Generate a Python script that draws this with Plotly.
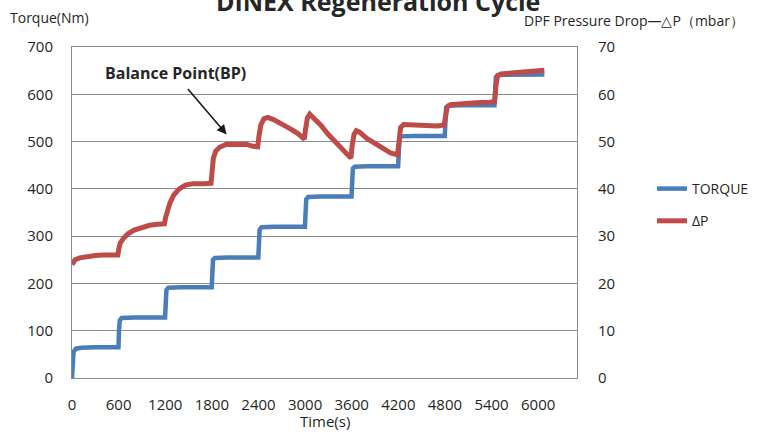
import plotly.graph_objects as go

# Time (s) and engine torque (Nm) for the stepped load profile
torque_t = [0, 8, 20, 50, 120, 300, 598,
            605, 615, 640, 800, 1198,
            1205, 1215, 1240, 1400, 1798,
            1805, 1815, 1840, 2000, 2398,
            2405, 2415, 2440, 2600, 2998,
            3005, 3015, 3040, 3200, 3598,
            3605, 3615, 3640, 3800, 4198,
            4205, 4215, 4240, 4400, 4798,
            4805, 4815, 4840, 5000, 5438,
            5445, 5455, 5480, 5700, 6080]
torque_nm = [0, 35, 55, 62, 64, 65, 65,
             100, 122, 127, 128, 128,
             165, 186, 191, 192, 192,
             228, 250, 254, 255, 255,
             290, 314, 319, 320, 320,
             355, 378, 383, 384, 384,
             420, 443, 447, 448, 448,
             485, 507, 511, 512, 512,
             550, 572, 576, 577, 577,
             612, 636, 641, 642, 642]

# Time (s) and DPF pressure drop (mbar)
dp_t = [0, 15, 40, 100, 200, 300, 400, 500, 590,
        605, 620, 660, 720, 800, 900, 1000, 1100, 1190,
        1205, 1225, 1260, 1310, 1380, 1460, 1560, 1700, 1790,
        1805, 1820, 1850, 1900, 1980, 2100, 2250, 2330, 2390,
        2405, 2430, 2470, 2520, 2600, 2700, 2800, 2900, 2990,
        3005, 3030, 3060, 3100, 3200, 3300, 3400, 3500, 3590,
        3605, 3630, 3660, 3700, 3800, 3900, 4000, 4100, 4190,
        4205, 4230, 4270, 4400, 4550, 4700, 4790,
        4805, 4830, 4870, 5000, 5200, 5380, 5440,
        5455, 5475, 5520, 5650, 5800, 5950, 6080]
dp_mbar = [24.0, 24.6, 25.0, 25.4, 25.7, 25.9, 26.0, 26.0, 26.0,
           27.5, 28.5, 29.5, 30.5, 31.3, 31.9, 32.3, 32.5, 32.6,
           34.0, 35.5, 37.0, 38.7, 40.0, 40.8, 41.1, 41.1, 41.2,
           44.0, 46.5, 48.0, 48.8, 49.4, 49.5, 49.4, 49.0, 48.9,
           51.0, 53.5, 54.8, 55.1, 54.6, 53.8, 52.8, 51.8, 50.5,
           52.5, 55.0, 55.8, 55.2, 53.5, 51.5, 49.8, 48.2, 46.5,
           49.0, 51.5, 52.3, 52.0, 50.6, 49.5, 48.5, 47.6, 47.2,
           50.5, 53.0, 53.6, 53.5, 53.2, 53.3, 53.5,
           55.5, 57.3, 57.8, 58.0, 58.2, 58.3, 58.5,
           61.5, 63.8, 64.3, 64.5, 64.9, 65.1, 65.1]

x_ticks = [0, 600, 1200, 1800, 2400, 3000, 3600, 4200, 4800, 5400, 6000]

W, H = 765, 432
L, R, T, B = 72, 578, 47, 378

def px(x):
    return (x - L) / (R - L)

def py(y):
    return (B - y) / (B - T)

FONT = "Open Sans"
TXT = "#262626"
GRID = "#8c8c8c"

fig = go.Figure()
fig.add_trace(go.Scatter(
    x=torque_t, y=torque_nm, name="TORQUE", mode="lines",
    line=dict(color="#4a7ebb", width=4.5), legendgroup="a"))
fig.add_trace(go.Scatter(
    x=dp_t, y=dp_mbar, name="ΔP", mode="lines", yaxis="y2",
    line=dict(color="#be4b48", width=5), legendgroup="b"))

fig.update_layout(
    width=W, height=H,
    margin=dict(l=L, r=W - R, t=T, b=H - B),
    paper_bgcolor="white", plot_bgcolor="white",
    font=dict(family=FONT, size=14, color=TXT),
    showlegend=True,
    legend=dict(x=px(652), y=py(173), xanchor="left", yanchor="top",
                font=dict(size=14, color=TXT), tracegroupgap=11,
                bgcolor="rgba(0,0,0,0)"),
    xaxis=dict(range=[0, 6500], tickvals=x_ticks, showgrid=False,
               zeroline=False, showline=True, linecolor=GRID, mirror=True,
               ticks="", ticklabelstandoff=13,
               tickfont=dict(size=15, color=TXT)),
    yaxis=dict(range=[0, 700], dtick=100, showgrid=True, gridcolor=GRID,
               gridwidth=1, zeroline=False, showline=True, linecolor=GRID,
               mirror=True, ticks="", ticklabelstandoff=15,
               tickfont=dict(size=15, color=TXT)),
    yaxis2=dict(range=[0, 70], dtick=10, overlaying="y", side="right",
                showgrid=False, zeroline=False, showline=False, ticks="",
                ticklabelstandoff=20, tickfont=dict(size=15, color=TXT)),
)

annotations = [
    dict(text="<b>DINEX Regeneration Cycle</b>", x=px(379), y=py(1),
         xanchor="center", yanchor="middle", font=dict(size=25, color=TXT)),
    dict(text="Torque(Nm)", x=px(8), y=py(18), xanchor="left",
         yanchor="middle", font=dict(size=14, color=TXT)),
    dict(text="DPF Pressure Drop—△P（mbar）", x=px(747), y=py(21),
         xanchor="right", yanchor="middle", font=dict(size=14, color=TXT)),
    dict(text="Time(s)", x=px(325), y=py(421), xanchor="center",
         yanchor="middle", font=dict(size=15, color=TXT)),
    dict(text="<b>Balance Point(BP)</b>", x=px(176), y=py(73),
         xanchor="center", yanchor="middle", font=dict(size=16, color=TXT)),
]
for a in annotations:
    a.update(xref="paper", yref="paper", showarrow=False)
    fig.add_annotation(**a)

# Arrow pointing at the balance point on the pressure-drop curve
fig.add_annotation(
    x=1990, y=515, xref="x", yref="y", ax=188 - 228, ay=88 - 135,
    showarrow=True, arrowhead=2, arrowsize=1.2, arrowwidth=1.6,
    arrowcolor="#1a1a1a", text="")

fig.write_html("out.html")
